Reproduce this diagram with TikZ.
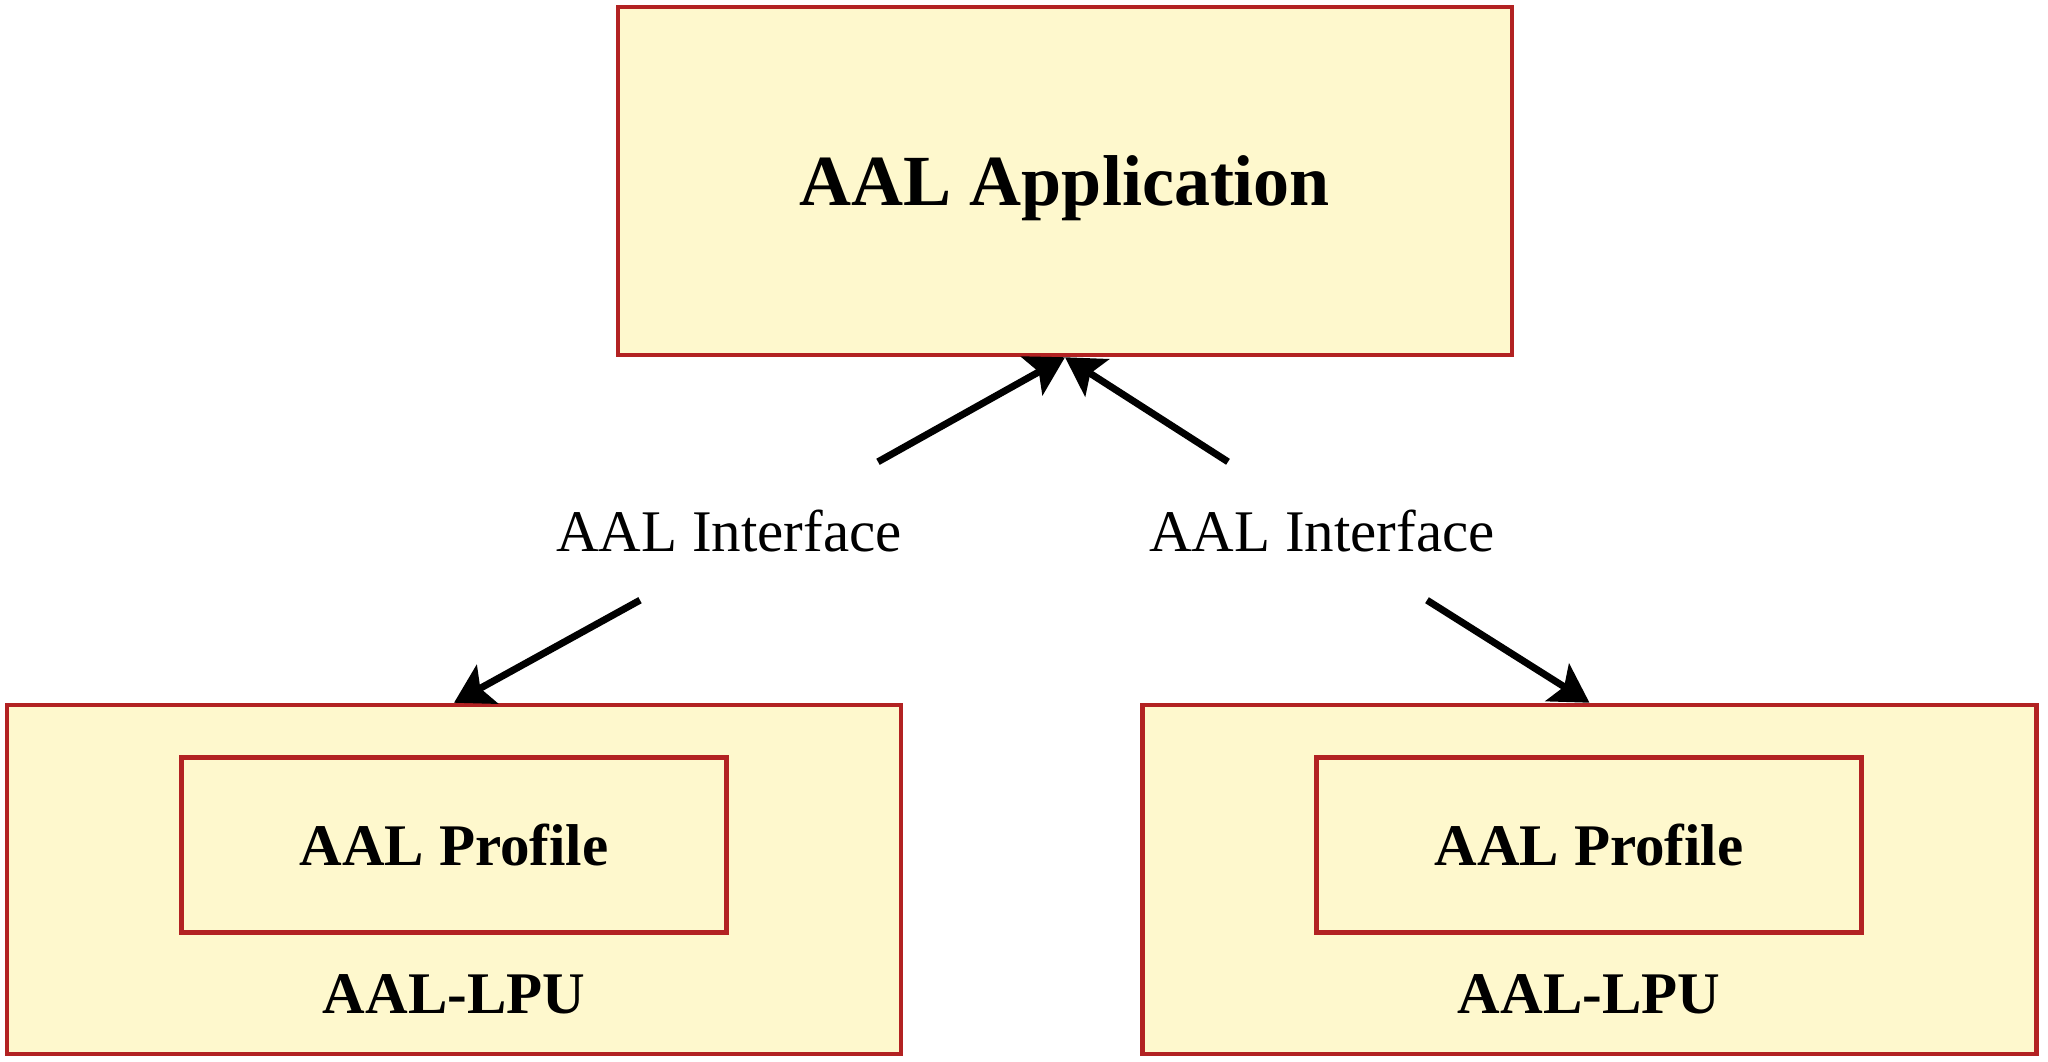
\documentclass[tikz,border=0pt]{standalone}
\usepackage{fontspec}
\setmainfont{Liberation Serif}
\usetikzlibrary{arrows.meta}
\definecolor{boxfill}{HTML}{FEF8CD}
\definecolor{boxline}{HTML}{B22222}
\begin{document}
\begin{tikzpicture}[x=1pt,y=-1pt,
  box/.style={draw=boxline,fill=boxfill,line width=4.5pt,inner sep=0pt},
  bigtxt/.style={font=\fontsize{72}{80}\selectfont\bfseries,text depth=0pt},
  boldtxt/.style={font=\fontsize{59}{68}\selectfont\bfseries},
  iftxt/.style={font=\fontsize{59}{68}\selectfont,inner sep=0pt,minimum height=138pt},
  arr/.style={-{Stealth[length=38pt,width=44pt,inset=8pt]},line width=7pt}]
\useasboundingbox (0,0) rectangle (2048,1062);
%\draw[step=100,gray,very thin] (0,0) grid (2048,1062); %background grid
\node[box,bigtxt,minimum width=894pt,minimum height=348pt] (app) at (1065,181) {AAL Application};
% left LPU
\node[box,minimum width=894pt,minimum height=349pt] (lpuL) at (454,879.5) {};
\node[box,boldtxt,minimum width=545pt,minimum height=175pt] (profL) at (454,845) {AAL Profile};
\node[boldtxt] (lpuLtxt) at (454,994) {AAL-LPU};
% right LPU
\node[box,minimum width=894pt,minimum height=349pt] (lpuR) at (1589.5,879.5) {};
\node[box,boldtxt,minimum width=545pt,minimum height=175pt] (profR) at (1589,845) {AAL Profile};
\node[boldtxt] (lpuRtxt) at (1589,994) {AAL-LPU};
% interfaces
\node[iftxt] (ifL) at (729,531) {AAL Interface};
\node[iftxt] (ifR) at (1322,531) {AAL Interface};
\draw[arr] ([xshift=149pt]ifL.north) -- (app.south);
\draw[arr] ([xshift=-94pt]ifR.north) -- (app.south);
\draw[arr] ([xshift=-89pt]ifL.south) -- (lpuL.north);
\draw[arr] ([xshift=105pt]ifR.south) -- (lpuR.north);
\end{tikzpicture}
\end{document}
